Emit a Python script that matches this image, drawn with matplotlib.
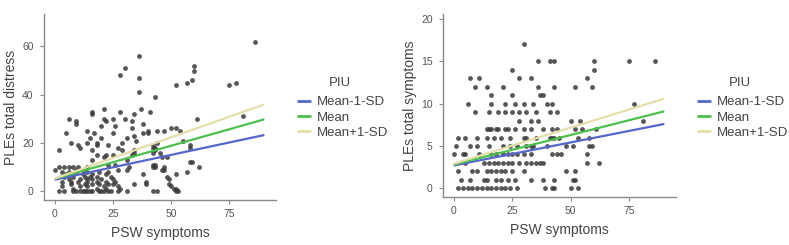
import matplotlib
matplotlib.use("Agg")
import matplotlib.pyplot as plt
import numpy as np

plt.rcParams['font.family'] = ['Liberation Sans', 'DejaVu Sans']

# ---------------- data ----------------
# Left panel: PSW symptoms vs PLEs total distress
distress_x = [86, 36, 60, 30, 60, 28, 36, 59, 57, 78, 52, 75, 36, 43,
              21, 37, 16, 28, 41, 16, 34, 81,
              6, 21, 25, 30, 61, 9, 22, 33, 9, 38,
              20, 26, 33, 50, 52, 14, 40, 44, 47, 54,
              5, 17, 25, 38, 40, 34, 15, 20, 31, 35, 55,
              7, 14, 18, 29, 44, 10, 18, 23, 42, 58,
              11, 27, 42, 43, 58, 2, 16, 29, 34, 43,
              34, 42, 45, 18, 22, 25, 33, 21, 46, 48,
              16, 31, 58, 59, 23, 26, 42, 43,
              2, 4, 6, 8, 10, 14, 32, 42, 43, 47, 62,
              0, 9, 12, 27, 31, 46, 47,
              3, 6, 9, 14, 19, 23, 57,
              5, 7, 12, 16, 22, 38, 52,
              4, 8, 13, 15, 18, 24, 48,
              6, 11, 14, 16, 20, 25, 49,
              3, 7, 10, 14, 18, 22, 26, 39,
              7, 13, 16, 19, 23, 25, 34, 39, 49,
              3, 11, 14, 21, 27, 50,
              8, 18, 22, 28, 51, 52,
              2, 4, 8, 9, 11, 12, 13, 14, 15, 16, 19, 20, 21, 23, 24, 27, 31, 42, 44, 52, 53]
distress_y = [62, 56, 52, 51, 50, 48, 47, 46, 45, 45, 44, 44, 41, 39,
              34, 34, 33, 33, 33, 32, 32, 31,
              30, 30, 30, 30, 30, 29, 29, 29, 28, 28,
              27, 27, 26, 26, 26, 25, 25, 25, 25, 25,
              24, 24, 24, 24, 24, 23, 22, 22, 22, 21, 21,
              20, 20, 20, 20, 20, 19, 19, 19, 19, 19,
              18, 18, 18, 18, 18, 17, 17, 17, 17, 17,
              16, 16, 16, 15, 15, 15, 15, 14, 14, 14,
              13, 13, 12, 12, 11, 11, 11, 11,
              10, 10, 10, 10, 10, 10, 10, 10, 10, 10, 10,
              9, 9, 9, 9, 9, 9, 9,
              8, 8, 8, 8, 8, 8, 8,
              7, 7, 7, 7, 7, 7, 7,
              6, 6, 6, 6, 6, 6, 6,
              5, 5, 5, 5, 5, 5, 5,
              4, 4, 4, 4, 4, 4, 4, 4,
              3, 3, 3, 3, 3, 3, 3, 3, 3,
              2, 2, 2, 2, 2, 2,
              1, 1, 1, 1, 1, 1,
              0, 0, 0, 0, 0, 0, 0, 0, 0, 0, 0, 0, 0, 0, 0, 0, 0, 0, 0, 0, 0]

# Right panel: PSW symptoms vs PLEs total symptoms
symptoms_x = [30,
              36, 41, 43, 60, 75, 86,
              25, 60,
              7, 11, 28, 33, 57,
              9, 14, 21, 36, 43, 52, 59,
              16, 25, 37, 38,
              6, 16, 22, 26, 30, 34, 40, 42, 77,
              9, 15, 19, 22, 25, 28, 31, 35, 41, 44,
              28, 33, 36, 50, 54, 81,
              14, 15, 16, 18, 19, 22, 23, 26, 30, 33, 38, 42, 44, 52, 55, 61,
              2, 5, 10, 14, 17, 20, 24, 30, 31, 35, 41, 42, 43, 45, 53, 58,
              1, 7, 10, 15, 21, 24, 27, 31, 33, 34, 40, 48, 51, 58, 59,
              0, 4, 5, 11, 16, 18, 21, 23, 25, 27, 30, 33, 42, 44, 46, 57,
              5, 13, 15, 17, 19, 21, 23, 25, 28, 31, 33, 35, 37, 38, 57, 62,
              2, 8, 10, 14, 16, 18, 20, 22, 25, 30, 48, 52,
              3, 7, 13, 14, 18, 20, 23, 26, 33, 38, 43, 51, 52,
              2, 4, 6, 8, 10, 12, 14, 16, 18, 20, 22, 24, 27, 39, 42, 43, 50, 53]
symptoms_y = [17,
              15, 15, 15, 15, 15, 15,
              14, 14,
              13, 13, 13, 13, 13,
              12, 12, 12, 12, 12, 12, 12,
              11, 11, 11, 11,
              10, 10, 10, 10, 10, 10, 10, 10, 10,
              9, 9, 9, 9, 9, 9, 9, 9, 9, 9,
              8, 8, 8, 8, 8, 8,
              7, 7, 7, 7, 7, 7, 7, 7, 7, 7, 7, 7, 7, 7, 7, 7,
              6, 6, 6, 6, 6, 6, 6, 6, 6, 6, 6, 6, 6, 6, 6, 6,
              5, 5, 5, 5, 5, 5, 5, 5, 5, 5, 5, 5, 5, 5, 5,
              4, 4, 4, 4, 4, 4, 4, 4, 4, 4, 4, 4, 4, 4, 4, 4,
              3, 3, 3, 3, 3, 3, 3, 3, 3, 3, 3, 3, 3, 3, 3, 3,
              2, 2, 2, 2, 2, 2, 2, 2, 2, 2, 2, 2,
              1, 1, 1, 1, 1, 1, 1, 1, 1, 1, 1, 1, 1,
              0, 0, 0, 0, 0, 0, 0, 0, 0, 0, 0, 0, 0, 0, 0, 0, 0, 0]

# Simple-slope lines (PIU levels): value at PSW = 0 and PSW = 90
piu_levels = ["Mean-1-SD", "Mean", "Mean+1-SD"]
line_x = [0, 90]
distress_lines = {"Mean-1-SD": [4.8, 23.3], "Mean": [5.2, 29.8], "Mean+1-SD": [5.3, 36.0]}
symptoms_lines = {"Mean-1-SD": [2.7, 7.6], "Mean": [2.8, 9.1], "Mean+1-SD": [2.9, 10.6]}

x_ticks = [0, 25, 50, 75]
distress_ticks = [0, 20, 40, 60]
symptoms_ticks = [0, 5, 10, 15, 20]

# ---------------- style ----------------
line_colors = {"Mean-1-SD": "#5468c9", "Mean": "#4cbf4c", "Mean+1-SD": "#e3deaa"}
axis_color = "#8a8a8a"
tick_text = "#555555"
title_text = "#444444"
point_color = "#3a3a3a"

W, H = 789, 245
fig = plt.figure(figsize=(W / 100, H / 100), dpi=100)


def make_panel(rect, xs, ys, lines, yticks, ylim, ylabel, leg_x, title_x):
    ax = fig.add_axes(rect)
    ax.scatter(xs, ys, s=12, color=point_color, alpha=0.85, linewidths=0, zorder=2)
    for lvl in piu_levels:
        ax.plot(line_x, lines[lvl], color=line_colors[lvl], lw=1.6, label=lvl,
                solid_capstyle='butt', zorder=3)
    ax.set_xlim(-4.6, 95)
    ax.set_ylim(*ylim)
    ax.set_xticks(x_ticks)
    ax.set_yticks(yticks)
    for s in ["top", "right"]:
        ax.spines[s].set_visible(False)
    for s in ["left", "bottom"]:
        ax.spines[s].set_color(axis_color)
        ax.spines[s].set_linewidth(1.0)
    ax.tick_params(axis='both', colors=axis_color, labelcolor=tick_text,
                   labelsize=7.5, length=3, width=0.8)
    ax.tick_params(axis='x', pad=3.5)
    ax.tick_params(axis='y', pad=4.5)
    ax.set_xlabel("PSW symptoms", fontsize=10, color=title_text, labelpad=5)
    ax.set_ylabel(ylabel, fontsize=10, color=title_text, labelpad=3)
    leg = ax.legend(loc="upper left",
                    bbox_to_anchor=(leg_x / W, 1 - 96 / H),
                    bbox_transform=fig.transFigure, frameon=False,
                    fontsize=9.5, handlelength=1.05,
                    handletextpad=0.45, labelspacing=0.24, borderaxespad=0,
                    borderpad=0)
    for t in leg.get_texts():
        t.set_color(title_text)
    for h in leg.legend_handles:
        h.set_linewidth(2.0)
    fig.text(title_x / W, 1 - 83 / H, "PIU", ha="center", va="center",
             fontsize=9.5, color=title_text)
    return ax


make_panel([44 / W, 1 - 200 / H, (276 - 44) / W, (200 - 14) / H],
           distress_x, distress_y, distress_lines, distress_ticks, (-3.6, 73.4),
           "PLEs total distress", 297, 340)
make_panel([443 / W, 1 - 197 / H, (676 - 443) / W, (197 - 14) / H],
           symptoms_x, symptoms_y, symptoms_lines, symptoms_ticks, (-1.03, 20.6),
           "PLEs total symptoms", 697, 740)

fig.savefig("out.png", dpi=100)
